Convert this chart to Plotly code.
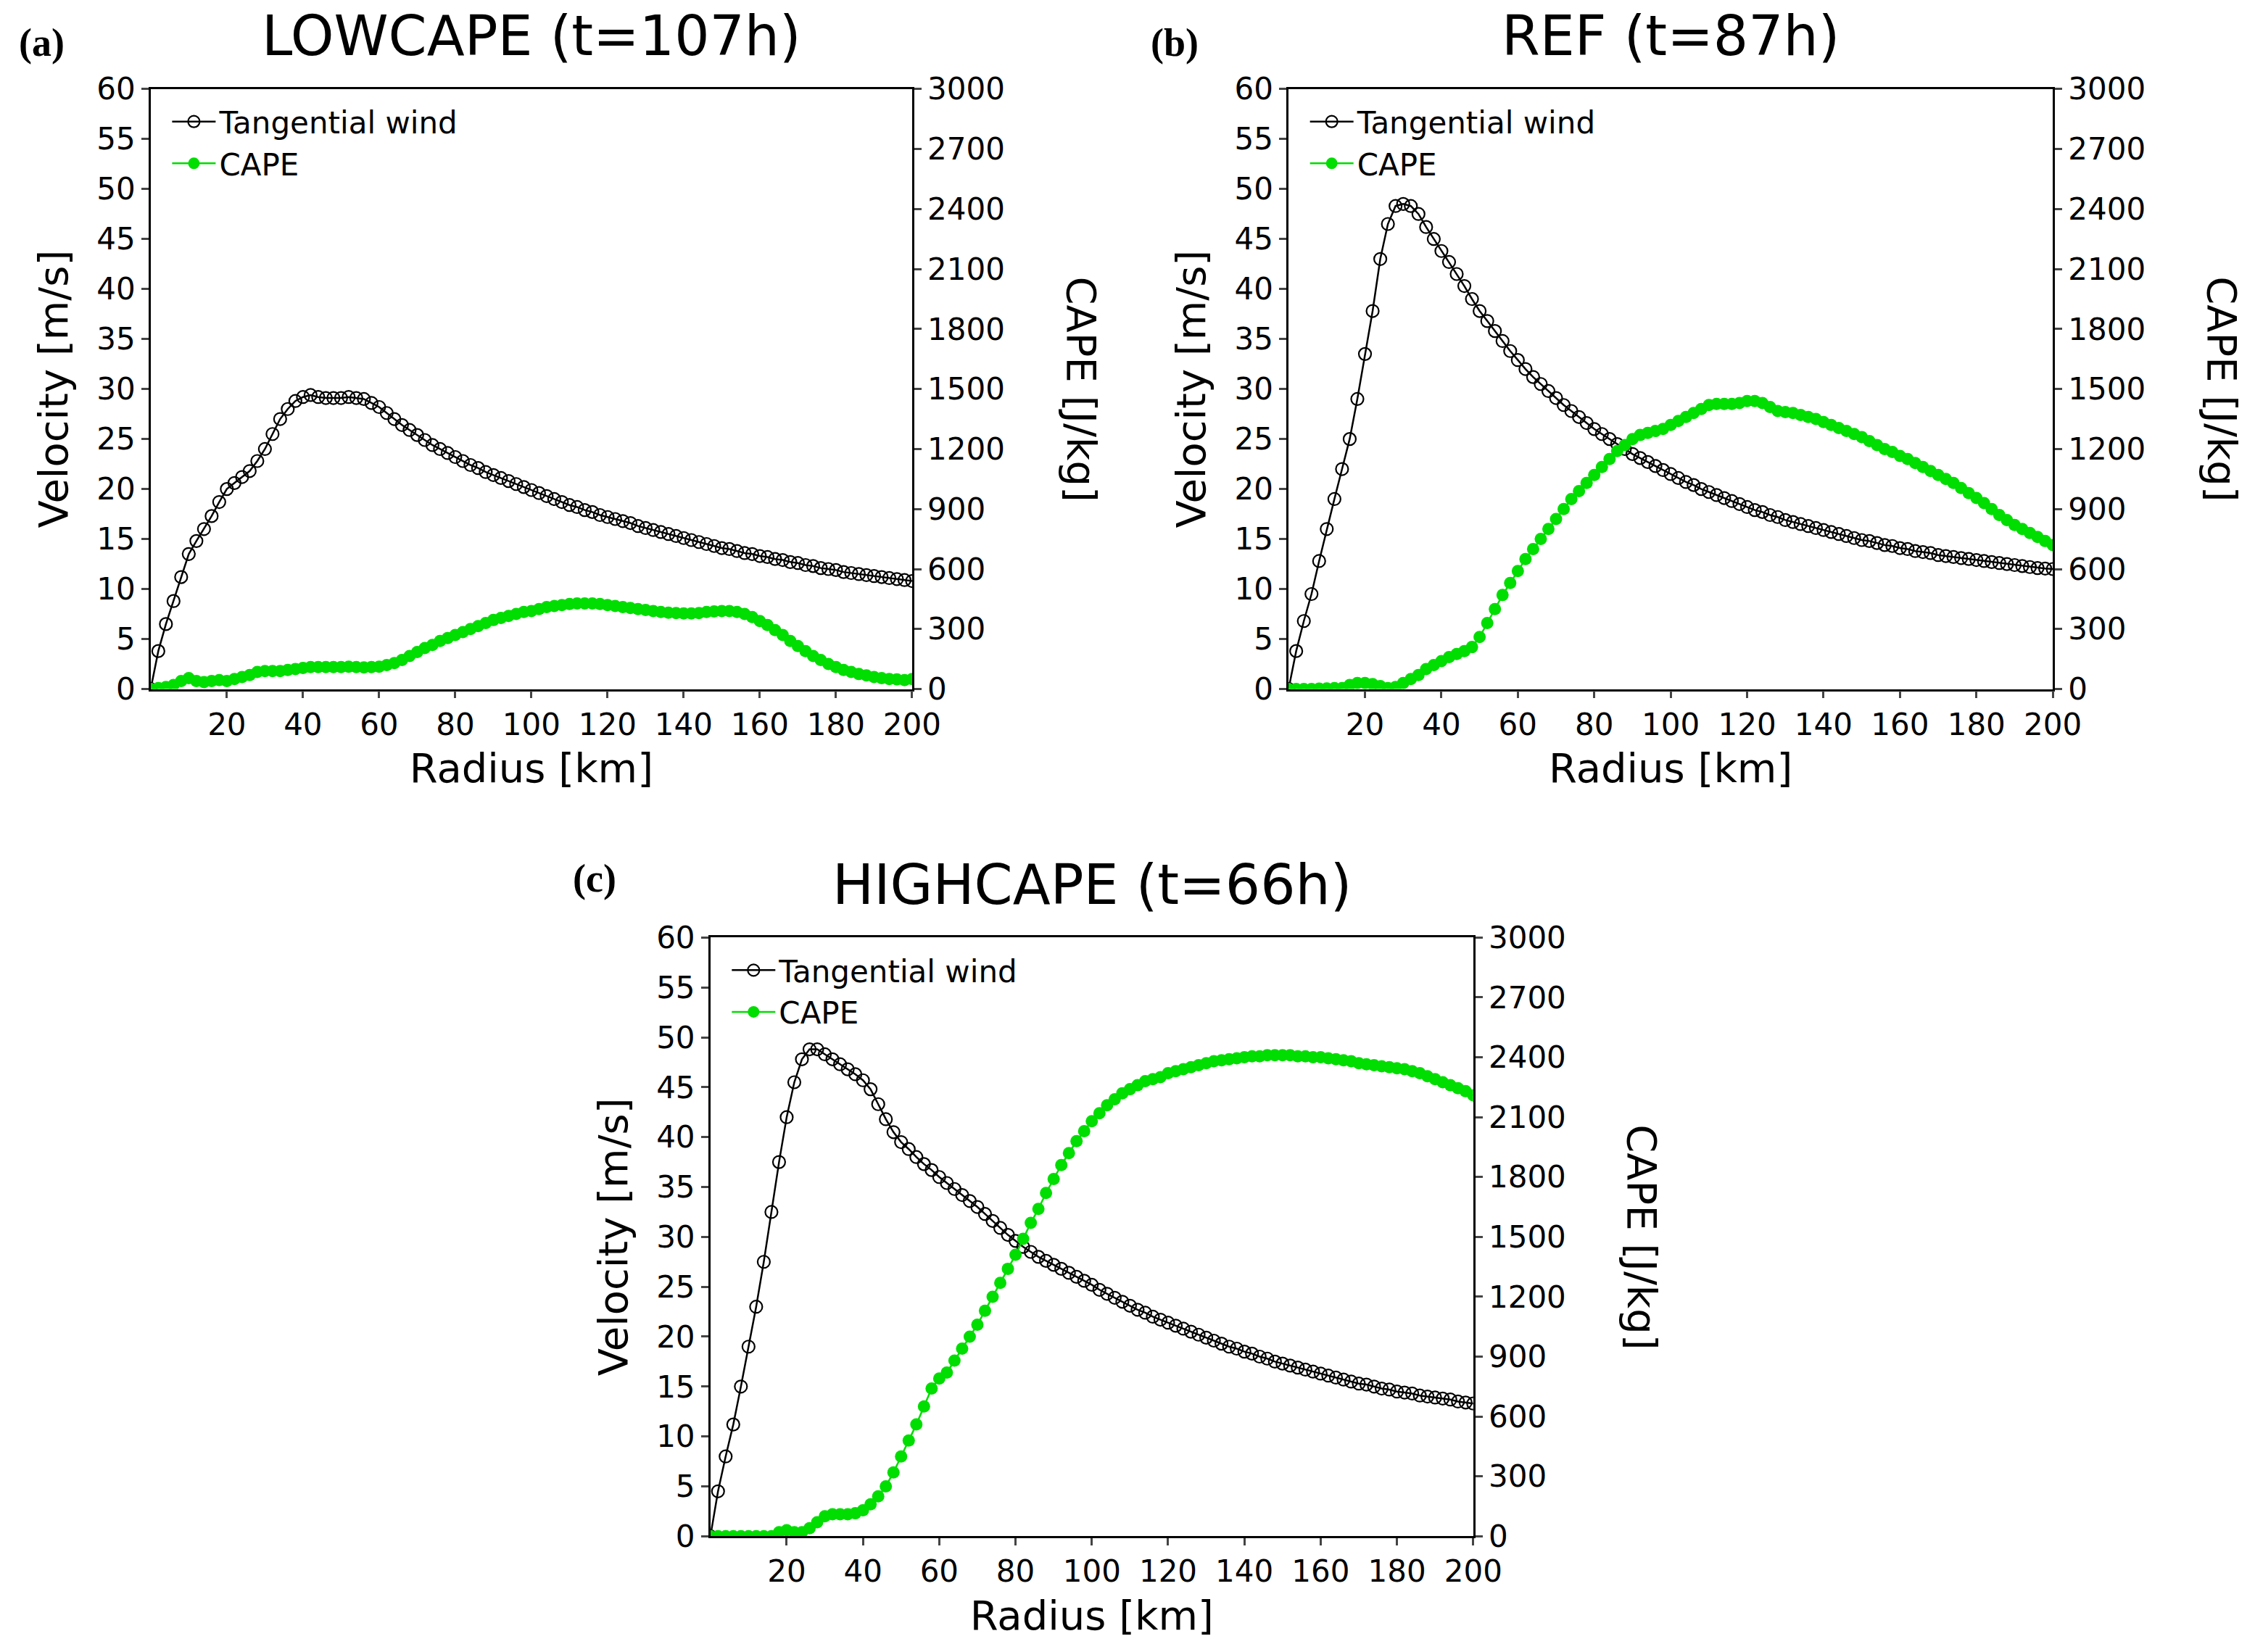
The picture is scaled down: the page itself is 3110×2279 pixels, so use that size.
import plotly.graph_objects as go

radius = list(range(0, 201, 2))

wind_a = [0,3.8,6.5,8.8,11.2,13.5,14.8,16,17.3,18.7,20,20.6,21.2,21.8,22.8,24,25.5,27,28,28.8,29.2,29.4,29.2,29.1,29.1,29.1,29.2,29.1,29,28.6,28.2,27.6,27,26.4,25.9,25.4,24.9,24.4,24,23.6,23.2,22.8,22.4,22.1,21.7,21.4,21.1,20.8,20.5,20.2,19.9,19.6,19.3,19.0,18.7,18.4,18.2,17.9,17.7,17.4,17.2,17.0,16.8,16.6,16.3,16.1,15.9,15.7,15.5,15.3,15.1,14.9,14.7,14.5,14.3,14.1,14.0,13.8,13.6,13.5,13.3,13.2,13.0,12.9,12.7,12.6,12.4,12.3,12.1,12.0,11.9,11.7,11.6,11.5,11.4,11.3,11.2,11.1,11.0,10.9,10.8]
cape_a = [0,5,10,20,40,55,40,35,40,45,40,50,60,70,85,90,90,90,95,100,105,110,110,110,110,110,112,110,108,110,112,120,130,145,165,185,205,220,240,255,270,285,300,315,330,345,355,365,375,385,390,400,410,415,420,425,428,428,428,425,420,415,410,405,400,395,390,385,382,380,378,378,380,385,388,390,390,385,375,360,340,320,295,270,240,215,190,165,145,125,110,95,85,75,68,60,55,50,48,45,50]

wind_b = [0,3.8,6.8,9.5,12.8,16,19,22,25,29,33.5,37.8,43,46.5,48.3,48.5,48.3,47.5,46.2,45,43.8,42.7,41.5,40.3,39,37.8,36.8,35.8,34.8,33.8,32.9,32,31.2,30.5,29.8,29.1,28.4,27.8,27.2,26.6,26,25.5,25,24.5,24,23.5,23.1,22.7,22.3,21.9,21.5,21.1,20.7,20.4,20.0,19.7,19.4,19.1,18.8,18.5,18.2,17.9,17.7,17.4,17.2,16.9,16.7,16.5,16.3,16.1,15.9,15.7,15.5,15.3,15.1,14.9,14.8,14.6,14.4,14.3,14.1,14.0,13.8,13.7,13.6,13.4,13.3,13.2,13.1,13.0,12.9,12.8,12.7,12.6,12.5,12.4,12.3,12.2,12.1,12.05,12.0]
cape_b = [0,0,0,0,2,3,5,5,20,30,30,25,15,5,10,30,50,70,100,120,140,160,175,190,210,260,330,400,470,530,590,650,700,750,800,850,900,950,990,1030,1070,1110,1150,1190,1220,1250,1270,1280,1290,1300,1320,1340,1360,1380,1400,1420,1425,1425,1425,1430,1440,1440,1430,1410,1390,1385,1380,1370,1360,1350,1335,1320,1305,1290,1275,1260,1240,1220,1200,1185,1165,1150,1130,1110,1090,1070,1050,1030,1005,980,955,930,900,870,845,820,800,780,760,740,720]

wind_c = [0,4.5,8,11.2,15,19,23,27.5,32.5,37.5,42,45.5,47.8,48.8,48.8,48.3,47.8,47.3,46.8,46.3,45.7,44.8,43.3,41.8,40.5,39.5,38.8,38,37.3,36.7,36,35.4,34.8,34.2,33.6,33,32.3,31.6,30.9,30.2,29.6,29,28.5,28,27.6,27.2,26.8,26.4,26,25.6,25.2,24.7,24.3,23.9,23.5,23.1,22.7,22.4,22.0,21.7,21.4,21.1,20.8,20.5,20.2,19.9,19.6,19.3,19.0,18.8,18.5,18.3,18.0,17.8,17.5,17.3,17.1,16.9,16.7,16.5,16.3,16.1,15.9,15.7,15.5,15.3,15.2,15.0,14.8,14.7,14.5,14.4,14.3,14.1,14.0,13.9,13.8,13.7,13.5,13.4,13.3]
cape_c = [0,0,0,0,0,0,0,0,0,20,30,20,20,40,70,100,110,110,110,115,130,160,200,250,320,400,480,560,650,740,790,820,880,940,1000,1060,1130,1200,1270,1340,1410,1490,1570,1640,1720,1790,1860,1920,1980,2030,2080,2120,2160,2190,2220,2240,2260,2280,2290,2300,2320,2330,2340,2350,2360,2370,2380,2385,2390,2395,2400,2405,2405,2410,2410,2410,2410,2405,2405,2400,2400,2395,2390,2385,2380,2370,2365,2360,2355,2350,2345,2340,2330,2320,2305,2290,2275,2260,2245,2230,2210]

titles = ["LOWCAPE (t=107h)", "REF (t=87h)", "HIGHCAPE (t=66h)"]
labels = ["(a)", "(b)", "(c)"]
x_ticks = [20, 40, 60, 80, 100, 120, 140, 160, 180, 200]

W, H = 3110, 2279
# panel boxes in 1567x1150 reference scale: (x0, x1, ytop, ybot)
boxes = [(102, 638, 46.8, 473.7), (903, 1441, 46.8, 473.7), (496, 1033, 650.5, 1076.4)]
GREEN = "#00DD00"
FONT = "DejaVu Sans"

fig = go.Figure()
winds = [wind_a, wind_b, wind_c]
capes = [cape_a, cape_b, cape_c]
annotations = []
for i in range(3):
    x0, x1, yt, yb = boxes[i]
    dx = [x0 / 1567, x1 / 1567]
    dy = [1 - yb / 1150, 1 - yt / 1150]
    n = "" if i == 0 else str(i * 2 + 1)
    n2 = str(i * 2 + 2)
    xa, ya, ya2 = "x" + n, "y" + n, "y" + n2
    lg = "legend" if i == 0 else "legend" + str(i + 1)
    fig.add_trace(go.Scatter(x=radius, y=winds[i], xaxis=xa, yaxis=ya, mode="lines+markers",
                             name="Tangential wind", legend=lg,
                             line=dict(color="black", width=2.5),
                             marker=dict(symbol="circle-open", size=17, color="black", line=dict(width=2.2))))
    fig.add_trace(go.Scatter(x=radius, y=capes[i], xaxis=xa, yaxis=ya2, mode="lines+markers",
                             name="CAPE", legend=lg,
                             line=dict(color=GREEN, width=2.5),
                             marker=dict(symbol="circle", size=17, color=GREEN)))
    axis_common = dict(showline=True, linecolor="black", linewidth=2.5, ticks="outside",
                       ticklen=10, tickwidth=2.5, showgrid=False, zeroline=False,
                       tickfont=dict(family=FONT, size=42, color="black"))
    fig.layout["xaxis" + n] = dict(domain=dx, anchor=ya, range=[0, 200], tickvals=x_ticks,
                                   mirror=True, title=dict(text="Radius [km]", font=dict(family=FONT, size=56, color="black"), standoff=18),
                                   **axis_common)
    fig.layout["yaxis" + n] = dict(domain=dy, anchor=xa, range=[0, 60], dtick=5,
                                   title=dict(text="Velocity [m/s]", font=dict(family=FONT, size=56, color="black"), standoff=22),
                                   **axis_common)
    fig.layout["yaxis" + n2] = dict(domain=dy, anchor=xa, overlaying=ya, side="right", range=[0, 3000], dtick=300,
                                    **axis_common)
    fig.layout[lg] = dict(x=dx[0] + 0.008, y=dy[1] - 0.005, xanchor="left", yanchor="top",
                          bgcolor="rgba(0,0,0,0)", font=dict(family=FONT, size=42, color="black"),
                          itemwidth=60, tracegroupgap=0)
    annotations.append(dict(text="CAPE [J/kg]", textangle=90, xref="paper", yref="paper",
                            x=dx[1] + 0.076, y=sum(dy) / 2, xanchor="center", yanchor="middle", showarrow=False,
                            font=dict(family=FONT, size=56, color="black")))
    annotations.append(dict(text=titles[i], xref="paper", yref="paper", x=sum(dx) / 2, y=dy[1] + 0.012,
                            xanchor="center", yanchor="bottom", showarrow=False,
                            font=dict(family=FONT, size=76, color="black")))
    annotations.append(dict(text="<b>" + labels[i] + "</b>", xref="paper", yref="paper",
                            x=[8, 805, 398][i] / 1567, y=[1 - 14 / 1150, 1 - 14 / 1150, 1 - 608.6 / 1150][i],
                            xanchor="left", yanchor="middle", showarrow=False,
                            font=dict(family="Liberation Serif", size=54, color="black")))

fig.update_layout(width=W, height=H, margin=dict(l=0, r=0, t=0, b=0), plot_bgcolor="white",
                  paper_bgcolor="white", annotations=annotations)
fig.write_html("out.html")
